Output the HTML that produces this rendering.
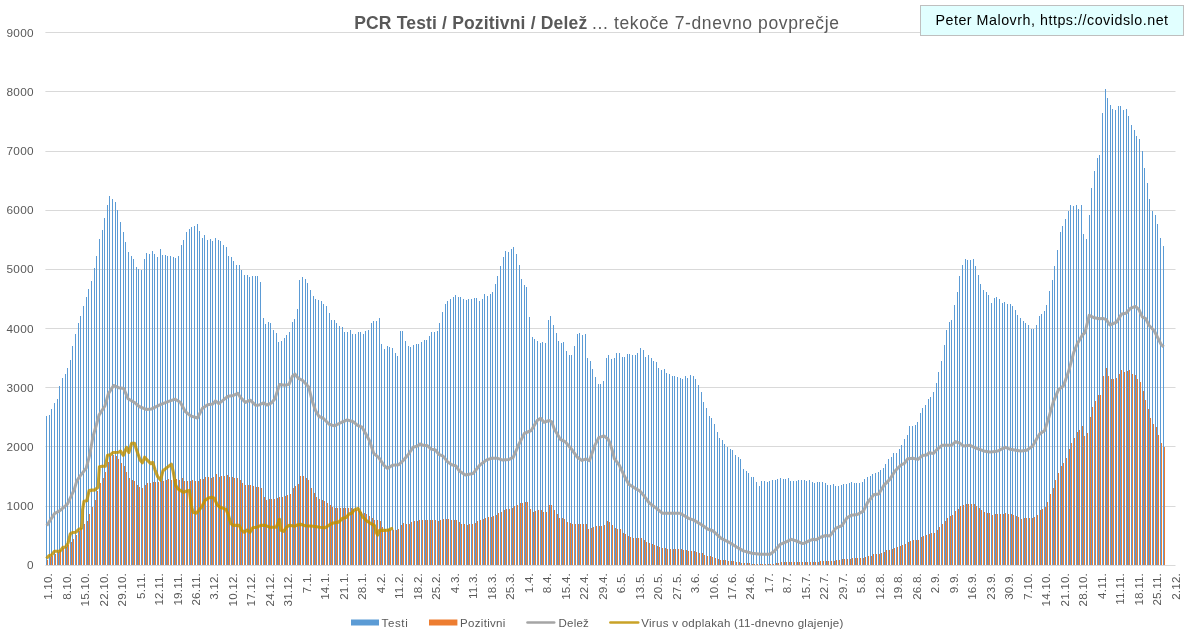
<!DOCTYPE html>
<html><head><meta charset="utf-8"><title>PCR Testi / Pozitivni / Delež</title>
<style>
html,body{margin:0;padding:0;background:#fff;}
body{width:1189px;height:643px;position:relative;overflow:hidden;font-family:"Liberation Sans",sans-serif;color:#595959;}
.t{will-change:transform;}
.yl{position:absolute;left:0;width:33.9px;text-align:right;font-size:11.8px;letter-spacing:0.3px;line-height:15px;height:15px;color:#595959;}
.xl{position:absolute;top:573.2px;font-size:11.6px;letter-spacing:0.2px;line-height:12px;white-space:nowrap;color:#595959;transform-origin:0 0;transform:rotate(-90deg) translate(-100%,-50%);}
.title{position:absolute;left:354.2px;top:12.3px;font-size:17.5px;line-height:22px;white-space:nowrap;color:#595959;letter-spacing:0.62px;}
.title b{font-weight:bold;letter-spacing:0.17px;}
.credit{position:absolute;left:920px;top:5px;width:262px;height:28.5px;border:1px solid #BFBFBF;background:#E1FFFF;box-sizing:content-box;}
.credit span{position:absolute;left:14.4px;top:5.0px;font-size:14.3px;letter-spacing:0.51px;line-height:18px;color:#000;white-space:nowrap;}
.lg{position:absolute;top:615.7px;font-size:11.5px;line-height:15px;white-space:nowrap;color:#595959;}
</style></head><body>
<svg width="1189" height="643" viewBox="0 0 1189 643" style="position:absolute;left:0;top:0">
<path fill="#D9D9D9" d="M45.4 506H1175.5v1H45.4zM45.4 446H1175.5v1H45.4zM45.4 387H1175.5v1H45.4zM45.4 328H1175.5v1H45.4zM45.4 269H1175.5v1H45.4zM45.4 210H1175.5v1H45.4zM45.4 151H1175.5v1H45.4zM45.4 91H1175.5v1H45.4zM45.4 32H1175.5v1H45.4z"/>
<g shape-rendering="crispEdges">
<path fill="#5B9BD5" d="M46 565V416h1V565zM49 565V415h1V565zM51 565V409h1V565zM54 565V403h1V565zM57 565V399h1V565zM59 565V386h1V565zM62 565V378h1V565zM65 565V374h1V565zM67 565V368h1V565zM70 565V360h1V565zM72 565V346h1V565zM75 565V334h1V565zM78 565V323h1V565zM80 565V316h1V565zM83 565V306h1V565zM86 565V297h1V565zM88 565V289h1V565zM91 565V281h1V565zM94 565V268h1V565zM96 565V256h1V565zM99 565V239h1V565zM102 565V230h1V565zM104 565V218h1V565zM107 565V205h1V565zM109 565V196h1V565zM112 565V199h1V565zM115 565V202h1V565zM117 565V210h1V565zM120 565V222h1V565zM123 565V232h1V565zM125 565V242h1V565zM128 565V252h1V565zM131 565V256h1V565zM133 565V259h1V565zM136 565V267h1V565zM138 565V269h1V565zM141 565V270h1V565zM144 565V259h1V565zM146 565V253h1V565zM149 565V254h1V565zM152 565V251h1V565zM154 565V254h1V565zM157 565V257h1V565zM160 565V249h1V565zM162 565V255h1V565zM165 565V255h1V565zM167 565V256h1V565zM170 565V256h1V565zM173 565V257h1V565zM175 565V258h1V565zM178 565V256h1V565zM181 565V245h1V565zM183 565V240h1V565zM186 565V232h1V565zM189 565V229h1V565zM191 565V227h1V565zM194 565V226h1V565zM197 565V224h1V565zM199 565V231h1V565zM202 565V238h1V565zM204 565V235h1V565zM207 565V240h1V565zM210 565V239h1V565zM212 565V241h1V565zM215 565V238h1V565zM218 565V240h1V565zM220 565V241h1V565zM223 565V245h1V565zM226 565V247h1V565zM228 565V256h1V565zM231 565V257h1V565zM233 565V261h1V565zM236 565V265h1V565zM239 565V265h1V565zM241 565V270h1V565zM244 565V275h1V565zM247 565V275h1V565zM249 565V277h1V565zM252 565V276h1V565zM255 565V276h1V565zM257 565V276h1V565zM260 565V282h1V565zM263 565V318h1V565zM265 565V324h1V565zM268 565V322h1V565zM270 565V323h1V565zM273 565V330h1V565zM276 565V333h1V565zM278 565V342h1V565zM281 565V341h1V565zM284 565V338h1V565zM286 565V335h1V565zM289 565V332h1V565zM292 565V322h1V565zM294 565V319h1V565zM297 565V309h1V565zM299 565V280h1V565zM302 565V277h1V565zM305 565V279h1V565zM307 565V283h1V565zM310 565V290h1V565zM313 565V296h1V565zM315 565V299h1V565zM318 565V300h1V565zM321 565V301h1V565zM323 565V304h1V565zM326 565V306h1V565zM329 565V313h1V565zM331 565V320h1V565zM334 565V320h1V565zM336 565V323h1V565zM339 565V326h1V565zM342 565V327h1V565zM344 565V332h1V565zM347 565V332h1V565zM350 565V330h1V565zM352 565V334h1V565zM355 565V334h1V565zM358 565V332h1V565zM360 565V332h1V565zM363 565V334h1V565zM365 565V331h1V565zM368 565V330h1V565zM371 565V323h1V565zM373 565V321h1V565zM376 565V321h1V565zM379 565V318h1V565zM381 565V344h1V565zM384 565V349h1V565zM387 565V346h1V565zM389 565V347h1V565zM392 565V348h1V565zM395 565V353h1V565zM397 565V356h1V565zM400 565V331h1V565zM402 565V331h1V565zM405 565V341h1V565zM408 565V346h1V565zM410 565V347h1V565zM413 565V345h1V565zM416 565V344h1V565zM418 565V344h1V565zM421 565V342h1V565zM424 565V340h1V565zM426 565V340h1V565zM429 565V336h1V565zM431 565V332h1V565zM434 565V332h1V565zM437 565V331h1V565zM439 565V323h1V565zM442 565V312h1V565zM445 565V304h1V565zM447 565V301h1V565zM450 565V299h1V565zM453 565V297h1V565zM455 565V295h1V565zM458 565V297h1V565zM460 565V297h1V565zM463 565V299h1V565zM466 565V300h1V565zM468 565V299h1V565zM471 565V299h1V565zM474 565V298h1V565zM476 565V298h1V565zM479 565V301h1V565zM482 565V299h1V565zM484 565V294h1V565zM487 565V296h1V565zM490 565V294h1V565zM492 565V292h1V565zM495 565V284h1V565zM497 565V276h1V565zM500 565V266h1V565zM503 565V257h1V565zM505 565V251h1V565zM508 565V252h1V565zM511 565V249h1V565zM513 565V247h1V565zM516 565V254h1V565zM519 565V265h1V565zM521 565V279h1V565zM524 565V285h1V565zM526 565V287h1V565zM529 565V317h1V565zM532 565V337h1V565zM534 565V339h1V565zM537 565V341h1V565zM540 565V343h1V565zM542 565V342h1V565zM545 565V343h1V565zM548 565V320h1V565zM550 565V316h1V565zM553 565V325h1V565zM556 565V333h1V565zM558 565V341h1V565zM561 565V343h1V565zM563 565V342h1V565zM566 565V351h1V565zM569 565V355h1V565zM571 565V355h1V565zM574 565V346h1V565zM577 565V334h1V565zM579 565V333h1V565zM582 565V335h1V565zM585 565V334h1V565zM587 565V358h1V565zM590 565V361h1V565zM592 565V369h1V565zM595 565V377h1V565zM598 565V384h1V565zM600 565V384h1V565zM603 565V381h1V565zM606 565V358h1V565zM608 565V355h1V565zM611 565V359h1V565zM614 565V358h1V565zM616 565V353h1V565zM619 565V353h1V565zM622 565V357h1V565zM624 565V357h1V565zM627 565V354h1V565zM629 565V354h1V565zM632 565V355h1V565zM635 565V355h1V565zM637 565V353h1V565zM640 565V348h1V565zM643 565V350h1V565zM645 565V357h1V565zM648 565V355h1V565zM651 565V358h1V565zM653 565V361h1V565zM656 565V362h1V565zM658 565V368h1V565zM661 565V370h1V565zM664 565V369h1V565zM666 565V373h1V565zM669 565V374h1V565zM672 565V376h1V565zM674 565V376h1V565zM677 565V377h1V565zM680 565V378h1V565zM682 565V379h1V565zM685 565V376h1V565zM687 565V378h1V565zM690 565V375h1V565zM693 565V376h1V565zM695 565V379h1V565zM698 565V385h1V565zM701 565V392h1V565zM703 565V402h1V565zM706 565V408h1V565zM709 565V416h1V565zM711 565V418h1V565zM714 565V424h1V565zM717 565V432h1V565zM719 565V438h1V565zM722 565V440h1V565zM724 565V444h1V565zM727 565V447h1V565zM730 565V449h1V565zM732 565V450h1V565zM735 565V455h1V565zM738 565V457h1V565zM740 565V459h1V565zM743 565V469h1V565zM746 565V471h1V565zM748 565V473h1V565zM751 565V477h1V565zM753 565V477h1V565zM756 565V482h1V565zM759 565V486h1V565zM761 565V481h1V565zM764 565V481h1V565zM767 565V482h1V565zM769 565V481h1V565zM772 565V480h1V565zM775 565V480h1V565zM777 565V479h1V565zM780 565V478h1V565zM783 565V479h1V565zM785 565V479h1V565zM788 565V478h1V565zM790 565V481h1V565zM793 565V481h1V565zM796 565V481h1V565zM798 565V480h1V565zM801 565V480h1V565zM804 565V480h1V565zM806 565V481h1V565zM809 565V480h1V565zM812 565V482h1V565zM814 565V483h1V565zM817 565V482h1V565zM819 565V482h1V565zM822 565V482h1V565zM825 565V483h1V565zM827 565V485h1V565zM830 565V485h1V565zM833 565V484h1V565zM835 565V486h1V565zM838 565V486h1V565zM841 565V485h1V565zM843 565V484h1V565zM846 565V484h1V565zM849 565V483h1V565zM851 565V482h1V565zM854 565V483h1V565zM856 565V483h1V565zM859 565V483h1V565zM862 565V482h1V565zM864 565V479h1V565zM867 565V477h1V565zM870 565V476h1V565zM872 565V474h1V565zM875 565V473h1V565zM878 565V472h1V565zM880 565V470h1V565zM883 565V468h1V565zM885 565V464h1V565zM888 565V459h1V565zM891 565V457h1V565zM893 565V453h1V565zM896 565V453h1V565zM899 565V449h1V565zM901 565V445h1V565zM904 565V439h1V565zM907 565V435h1V565zM909 565V426h1V565zM912 565V426h1V565zM915 565V425h1V565zM917 565V422h1V565zM920 565V413h1V565zM922 565V408h1V565zM925 565V405h1V565zM928 565V399h1V565zM930 565V397h1V565zM933 565V392h1V565zM936 565V383h1V565zM938 565V372h1V565zM941 565V361h1V565zM944 565V345h1V565zM946 565V330h1V565zM949 565V322h1V565zM951 565V320h1V565zM954 565V305h1V565zM957 565V292h1V565zM959 565V276h1V565zM962 565V265h1V565zM965 565V259h1V565zM967 565V260h1V565zM970 565V260h1V565zM973 565V259h1V565zM975 565V266h1V565zM978 565V275h1V565zM980 565V284h1V565zM983 565V290h1V565zM986 565V292h1V565zM988 565V295h1V565zM991 565V303h1V565zM994 565V298h1V565zM996 565V297h1V565zM999 565V299h1V565zM1002 565V303h1V565zM1004 565V302h1V565zM1007 565V304h1V565zM1010 565V304h1V565zM1012 565V306h1V565zM1015 565V310h1V565zM1017 565V315h1V565zM1020 565V318h1V565zM1023 565V321h1V565zM1025 565V323h1V565zM1028 565V325h1V565zM1031 565V329h1V565zM1033 565V329h1V565zM1036 565V325h1V565zM1039 565V316h1V565zM1041 565V314h1V565zM1044 565V311h1V565zM1046 565V305h1V565zM1049 565V291h1V565zM1052 565V280h1V565zM1054 565V266h1V565zM1057 565V250h1V565zM1060 565V232h1V565zM1062 565V226h1V565zM1065 565V219h1V565zM1068 565V211h1V565zM1070 565V205h1V565zM1073 565V206h1V565zM1076 565V205h1V565zM1078 565V209h1V565zM1081 565V205h1V565zM1083 565V234h1V565zM1086 565V239h1V565zM1089 565V215h1V565zM1091 565V188h1V565zM1094 565V171h1V565zM1097 565V158h1V565zM1099 565V155h1V565zM1102 565V113h1V565zM1105 565V89h1V565zM1107 565V98h1V565zM1110 565V105h1V565zM1112 565V109h1V565zM1115 565V110h1V565zM1118 565V106h1V565zM1120 565V106h1V565zM1123 565V110h1V565zM1126 565V109h1V565zM1128 565V116h1V565zM1131 565V125h1V565zM1134 565V130h1V565zM1136 565V136h1V565zM1139 565V139h1V565zM1142 565V151h1V565zM1144 565V168h1V565zM1147 565V183h1V565zM1149 565V199h1V565zM1152 565V211h1V565zM1155 565V215h1V565zM1157 565V224h1V565zM1160 565V238h1V565zM1163 565V246h1V565z"/>
<path fill="#ED7D31" d="M47 565V560h1V565zM50 565V557h1V565zM52 565V556h1V565zM55 565V554h1V565zM58 565V552h1V565zM60 565V550h1V565zM63 565V548h1V565zM66 565V547h1V565zM68 565V545h1V565zM71 565V542h1V565zM73 565V539h1V565zM76 565V535h1V565zM79 565V531h1V565zM81 565V528h1V565zM84 565V524h1V565zM87 565V521h1V565zM89 565V514h1V565zM92 565V507h1V565zM95 565V500h1V565zM97 565V491h1V565zM100 565V483h1V565zM103 565V478h1V565zM105 565V472h1V565zM108 565V462h1V565zM110 565V456h1V565zM113 565V455h1V565zM116 565V456h1V565zM118 565V459h1V565zM121 565V463h1V565zM124 565V466h1V565zM126 565V472h1V565zM129 565V478h1V565zM132 565V480h1V565zM134 565V481h1V565zM137 565V485h1V565zM139 565V487h1V565zM142 565V488h1V565zM145 565V485h1V565zM147 565V483h1V565zM150 565V483h1V565zM153 565V482h1V565zM155 565V482h1V565zM158 565V482h1V565zM161 565V481h1V565zM163 565V481h1V565zM166 565V480h1V565zM168 565V479h1V565zM171 565V480h1V565zM174 565V480h1V565zM176 565V479h1V565zM179 565V480h1V565zM182 565V478h1V565zM184 565V481h1V565zM187 565V481h1V565zM190 565V481h1V565zM192 565V480h1V565zM195 565V481h1V565zM198 565V481h1V565zM200 565V479h1V565zM203 565V479h1V565zM205 565V477h1V565zM208 565V477h1V565zM211 565V478h1V565zM213 565V477h1V565zM216 565V474h1V565zM219 565V477h1V565zM221 565V476h1V565zM224 565V476h1V565zM227 565V475h1V565zM229 565V477h1V565zM232 565V477h1V565zM234 565V478h1V565zM237 565V478h1V565zM240 565V480h1V565zM242 565V483h1V565zM245 565V485h1V565zM248 565V485h1V565zM250 565V485h1V565zM253 565V486h1V565zM256 565V487h1V565zM258 565V487h1V565zM261 565V488h1V565zM264 565V497h1V565zM266 565V500h1V565zM269 565V499h1V565zM271 565V499h1V565zM274 565V499h1V565zM277 565V498h1V565zM279 565V497h1V565zM282 565V497h1V565zM285 565V496h1V565zM287 565V495h1V565zM290 565V494h1V565zM293 565V488h1V565zM295 565V486h1V565zM298 565V484h1V565zM300 565V476h1V565zM303 565V476h1V565zM306 565V478h1V565zM308 565V480h1V565zM311 565V488h1V565zM314 565V493h1V565zM316 565V497h1V565zM319 565V499h1V565zM322 565V500h1V565zM324 565V501h1V565zM327 565V503h1V565zM330 565V505h1V565zM332 565V507h1V565zM335 565V508h1V565zM337 565V508h1V565zM340 565V508h1V565zM343 565V508h1V565zM345 565V508h1V565zM348 565V508h1V565zM351 565V508h1V565zM353 565V509h1V565zM356 565V510h1V565zM359 565V511h1V565zM361 565V512h1V565zM364 565V513h1V565zM366 565V514h1V565zM369 565V516h1V565zM372 565V518h1V565zM374 565V520h1V565zM377 565V520h1V565zM380 565V521h1V565zM382 565V527h1V565zM385 565V529h1V565zM388 565V529h1V565zM390 565V530h1V565zM393 565V530h1V565zM396 565V530h1V565zM398 565V529h1V565zM401 565V525h1V565zM403 565V523h1V565zM406 565V524h1V565zM409 565V524h1V565zM411 565V522h1V565zM414 565V521h1V565zM417 565V521h1V565zM419 565V520h1V565zM422 565V520h1V565zM425 565V520h1V565zM427 565V520h1V565zM430 565V520h1V565zM432 565V520h1V565zM435 565V520h1V565zM438 565V521h1V565zM440 565V520h1V565zM443 565V519h1V565zM446 565V519h1V565zM448 565V519h1V565zM451 565V520h1V565zM454 565V520h1V565zM456 565V520h1V565zM459 565V522h1V565zM461 565V524h1V565zM464 565V524h1V565zM467 565V525h1V565zM469 565V524h1V565zM472 565V524h1V565zM475 565V523h1V565zM477 565V521h1V565zM480 565V520h1V565zM483 565V519h1V565zM485 565V518h1V565zM488 565V517h1V565zM491 565V517h1V565zM493 565V516h1V565zM496 565V515h1V565zM498 565V513h1V565zM501 565V512h1V565zM504 565V510h1V565zM506 565V509h1V565zM509 565V509h1V565zM512 565V508h1V565zM514 565V506h1V565zM517 565V505h1V565zM520 565V503h1V565zM522 565V503h1V565zM525 565V502h1V565zM527 565V502h1V565zM530 565V509h1V565zM533 565V512h1V565zM535 565V511h1V565zM538 565V510h1V565zM541 565V510h1V565zM543 565V512h1V565zM546 565V512h1V565zM549 565V505h1V565zM551 565V505h1V565zM554 565V510h1V565zM557 565V514h1V565zM559 565V518h1V565zM562 565V518h1V565zM564 565V519h1V565zM567 565V522h1V565zM570 565V523h1V565zM572 565V524h1V565zM575 565V524h1V565zM578 565V524h1V565zM580 565V524h1V565zM583 565V524h1V565zM586 565V524h1V565zM588 565V529h1V565zM591 565V528h1V565zM593 565V527h1V565zM596 565V526h1V565zM599 565V526h1V565zM601 565V526h1V565zM604 565V525h1V565zM607 565V521h1V565zM609 565V522h1V565zM612 565V525h1V565zM615 565V528h1V565zM617 565V529h1V565zM620 565V529h1V565zM623 565V533h1V565zM625 565V534h1V565zM628 565V536h1V565zM630 565V537h1V565zM633 565V538h1V565zM636 565V538h1V565zM638 565V538h1V565zM641 565V538h1V565zM644 565V540h1V565zM646 565V542h1V565zM649 565V543h1V565zM652 565V544h1V565zM654 565V545h1V565zM657 565V546h1V565zM659 565V547h1V565zM662 565V548h1V565zM665 565V548h1V565zM667 565V549h1V565zM670 565V549h1V565zM673 565V549h1V565zM675 565V549h1V565zM678 565V549h1V565zM681 565V549h1V565zM683 565V550h1V565zM686 565V550h1V565zM688 565V551h1V565zM691 565V551h1V565zM694 565V551h1V565zM696 565V552h1V565zM699 565V553h1V565zM702 565V553h1V565zM704 565V555h1V565zM707 565V556h1V565zM710 565V556h1V565zM712 565V557h1V565zM715 565V558h1V565zM718 565V559h1V565zM720 565V560h1V565zM723 565V560h1V565zM725 565V560h1V565zM728 565V561h1V565zM731 565V561h1V565zM733 565V561h1V565zM736 565V562h1V565zM739 565V562h1V565zM741 565V563h1V565zM744 565V563h1V565zM747 565V563h1V565zM749 565V563h1V565zM752 565V564h1V565zM754 565V564h1V565zM757 565V564h1V565zM760 565V564h1V565zM762 565V564h1V565zM765 565V564h1V565zM768 565V564h1V565zM770 565V564h1V565zM773 565V564h1V565zM776 565V563h1V565zM778 565V563h1V565zM781 565V562h1V565zM784 565V562h1V565zM786 565V562h1V565zM789 565V562h1V565zM791 565V562h1V565zM794 565V562h1V565zM797 565V562h1V565zM799 565V562h1V565zM802 565V562h1V565zM805 565V562h1V565zM807 565V562h1V565zM810 565V562h1V565zM813 565V562h1V565zM815 565V562h1V565zM818 565V562h1V565zM820 565V561h1V565zM823 565V561h1V565zM826 565V561h1V565zM828 565V561h1V565zM831 565V561h1V565zM834 565V561h1V565zM836 565V560h1V565zM839 565V560h1V565zM842 565V559h1V565zM844 565V559h1V565zM847 565V559h1V565zM850 565V559h1V565zM852 565V558h1V565zM855 565V558h1V565zM857 565V558h1V565zM860 565V558h1V565zM863 565V558h1V565zM865 565V557h1V565zM868 565V556h1V565zM871 565V556h1V565zM873 565V554h1V565zM876 565V554h1V565zM879 565V554h1V565zM881 565V553h1V565zM884 565V552h1V565zM886 565V550h1V565zM889 565V550h1V565zM892 565V549h1V565zM894 565V548h1V565zM897 565V547h1V565zM900 565V546h1V565zM902 565V545h1V565zM905 565V544h1V565zM908 565V542h1V565zM910 565V541h1V565zM913 565V540h1V565zM916 565V540h1V565zM918 565V540h1V565zM921 565V537h1V565zM923 565V536h1V565zM926 565V535h1V565zM929 565V534h1V565zM931 565V533h1V565zM934 565V533h1V565zM937 565V530h1V565zM939 565V527h1V565zM942 565V524h1V565zM945 565V521h1V565zM947 565V518h1V565zM950 565V516h1V565zM952 565V515h1V565zM955 565V511h1V565zM958 565V509h1V565zM960 565V506h1V565zM963 565V505h1V565zM966 565V504h1V565zM968 565V504h1V565zM971 565V504h1V565zM974 565V504h1V565zM976 565V506h1V565zM979 565V508h1V565zM981 565V510h1V565zM984 565V512h1V565zM987 565V513h1V565zM989 565V513h1V565zM992 565V515h1V565zM995 565V514h1V565zM997 565V514h1V565zM1000 565V514h1V565zM1003 565V514h1V565zM1005 565V513h1V565zM1008 565V514h1V565zM1011 565V514h1V565zM1013 565V515h1V565zM1016 565V516h1V565zM1018 565V517h1V565zM1021 565V519h1V565zM1024 565V518h1V565zM1026 565V518h1V565zM1029 565V518h1V565zM1032 565V518h1V565zM1034 565V517h1V565zM1037 565V515h1V565zM1040 565V510h1V565zM1042 565V509h1V565zM1045 565V507h1V565zM1047 565V502h1V565zM1050 565V494h1V565zM1053 565V488h1V565zM1055 565V480h1V565zM1058 565V473h1V565zM1061 565V466h1V565zM1063 565V463h1V565zM1066 565V458h1V565zM1069 565V449h1V565zM1071 565V443h1V565zM1074 565V438h1V565zM1077 565V432h1V565zM1079 565V430h1V565zM1082 565V426h1V565zM1084 565V436h1V565zM1087 565V433h1V565zM1090 565V417h1V565zM1092 565V407h1V565zM1095 565V401h1V565zM1098 565V395h1V565zM1100 565V395h1V565zM1103 565V376h1V565zM1106 565V368h1V565zM1108 565V376h1V565zM1111 565V379h1V565zM1113 565V379h1V565zM1116 565V378h1V565zM1119 565V374h1V565zM1121 565V370h1V565zM1124 565V372h1V565zM1127 565V371h1V565zM1129 565V370h1V565zM1132 565V374h1V565zM1135 565V375h1V565zM1137 565V379h1V565zM1140 565V382h1V565zM1143 565V391h1V565zM1145 565V400h1V565zM1148 565V409h1V565zM1150 565V418h1V565zM1153 565V424h1V565zM1156 565V427h1V565zM1158 565V435h1V565zM1161 565V443h1V565zM1164 565V447h1V565z"/>
</g>
<path fill="#D9D9D9" d="M45.4 565H1175.5v1H45.4z"/>
<polyline fill="none" stroke="#A5A5A5" stroke-opacity="0.95" stroke-width="3.0" stroke-linejoin="round" stroke-linecap="butt" points="46.8,525.6 54.5,513.6 60.5,510.2 67.4,504.2 74.2,489.7 76.8,480.9 80.2,475.9 86.2,468.1 89.6,455.3 93.0,436.5 96.5,424.5 99.0,415.1 105.0,405.7 108.4,393.7 113.6,385.5 118.7,387.7 123.8,388.6 128.1,398.8 134.1,402.2 139.2,406.5 146.1,409.4 151.2,409.1 159.8,404.8 166.6,402.2 175.2,399.2 180.3,402.2 185.4,411.7 190.6,415.9 197.4,418.0 202.5,408.2 207.7,404.8 212.8,404.0 215.4,400.9 218.8,403.6 224.8,398.8 228.2,396.3 233.4,395.4 237.8,393.3 240.3,397.3 245.4,402.4 250.2,400.2 255.7,405.3 259.1,405.0 263.4,402.9 266.8,405.0 271.1,403.2 274.8,399.0 279.6,384.4 284.7,385.3 289.0,384.4 292.4,376.2 295.0,374.2 298.4,378.4 302.7,380.5 308.7,387.0 312.1,400.7 315.5,410.5 319.0,416.5 323.2,418.2 329.2,424.2 334.4,425.9 341.2,422.5 347.2,419.9 353.2,421.7 357.5,425.4 361.7,426.8 365.2,432.8 369.4,440.5 373.7,453.3 378.8,457.6 384.0,465.3 387.4,468.4 392.5,465.3 398.5,464.8 402.8,461.0 407.9,455.0 413.1,447.3 417.3,446.1 420.0,444.0 424.2,445.6 427.2,445.5 431.1,449.1 435.4,450.0 438.8,454.4 443.1,456.1 447.4,461.6 451.7,464.7 455.9,465.9 459.3,471.0 465.3,474.9 473.0,473.6 479.9,465.0 486.7,459.9 491.9,458.2 497.0,458.2 502.1,459.9 509.0,459.4 513.2,457.3 518.4,445.3 524.4,433.4 531.2,430.5 537.2,420.5 540.6,418.3 544.0,422.2 549.2,420.5 551.7,421.9 554.3,429.1 560.3,439.3 565.4,441.9 570.6,447.9 577.4,457.3 581.7,460.4 586.0,459.0 589.4,460.7 594.5,446.2 598.8,437.6 603.9,435.9 608.2,439.3 610.0,443.1 612.5,451.3 614.3,458.5 615.9,460.7 619.4,465.3 623.7,474.7 628.8,484.2 634.0,487.6 639.9,491.0 644.2,496.1 649.3,503.0 656.2,508.1 662.2,513.2 669.9,513.2 680.1,513.2 688.7,518.4 693.8,520.1 702.4,525.2 707.5,529.0 712.7,530.7 721.2,538.4 729.8,542.7 736.6,547.0 743.4,550.9 752.0,553.3 760.6,554.3 770.0,554.3 774.2,551.3 780.2,544.4 786.2,541.9 791.4,539.3 796.5,541.0 802.5,543.6 804.3,543.2 808.9,540.8 812.8,539.3 816.3,539.8 820.5,537.2 825.7,535.5 829.9,535.9 835.9,528.2 841.9,525.6 847.0,517.9 851.3,515.3 857.3,514.5 863.3,511.1 867.6,502.5 873.6,494.8 878.7,494.0 883.8,485.4 889.8,479.4 895.0,471.0 900.9,465.0 904.4,463.3 907.8,458.7 912.9,458.2 918.0,459.4 922.3,455.6 926.6,455.1 929.2,452.7 933.4,453.4 936.9,449.6 942.0,445.3 951.4,445.3 955.7,441.6 959.1,442.8 963.4,445.9 970.2,445.3 974.5,447.6 979.6,449.3 984.8,451.3 990.0,451.9 992.5,451.8 995.1,451.4 998.5,450.8 1000.3,449.7 1005.4,447.3 1010.5,449.3 1015.7,450.2 1020.8,451.1 1026.8,450.2 1032.8,445.9 1037.0,438.2 1039.6,434.0 1044.7,430.5 1049.0,416.8 1053.3,401.9 1058.4,389.9 1063.6,385.6 1068.7,371.1 1073.8,352.2 1077.3,343.7 1082.4,335.1 1085.0,332.4 1089.2,315.3 1094.4,317.8 1099.5,318.7 1102.9,318.4 1106.3,319.6 1109.8,325.0 1116.6,322.1 1121.7,313.9 1126.0,313.2 1130.3,308.4 1135.4,306.4 1138.8,309.3 1142.3,317.0 1145.7,318.7 1149.1,325.5 1154.2,330.7 1158.5,339.2 1161.1,344.4 1163.7,346.9"/>
<polyline fill="none" stroke="#BF9000" stroke-opacity="0.82" stroke-width="3.1" stroke-linejoin="round" stroke-linecap="butt" points="46.5,558.6 48.9,555.8 51.7,554.9 54.5,551.2 56.8,551.2 60.1,551.2 62.9,547.4 65.7,547.0 68.0,543.2 70.3,533.9 72.6,532.5 75.9,532.2 78.7,529.4 81.5,528.3 82.4,519.0 82.6,509.7 84.0,501.3 86.8,500.8 89.1,490.6 91.9,490.1 94.7,490.1 98.0,487.3 99.4,466.8 102.2,466.3 105.4,466.3 107.5,455.3 110.3,454.9 113.1,452.5 118.7,452.2 120.5,451.1 123.3,455.3 126.6,447.4 128.9,452.5 131.7,443.2 134.5,443.2 137.3,452.1 140.1,460.0 142.4,462.8 144.6,457.2 148.0,460.9 150.8,463.7 152.7,462.3 155.0,469.8 157.8,476.8 160.6,480.0 163.0,470.7 167.2,467.4 171.4,464.2 173.2,471.6 175.7,485.3 178.1,489.0 180.9,490.9 183.7,492.3 186.9,490.9 189.4,490.4 191.1,504.9 193.0,512.3 196.2,513.2 199.0,510.4 202.3,505.8 205.1,500.2 208.4,497.9 211.6,497.2 214.4,498.3 217.2,504.9 220.0,507.2 222.8,508.1 226.1,509.5 228.4,515.1 230.8,523.5 233.1,525.4 239.2,525.4 241.5,530.0 244.3,532.4 247.1,530.0 249.9,532.4 252.7,527.7 256.9,527.2 261.1,525.4 265.3,525.4 269.5,527.2 276.2,527.2 278.1,523.0 279.5,519.3 280.9,530.4 283.7,531.4 286.5,527.2 289.3,525.3 294.9,526.2 297.6,524.9 301.4,524.4 305.1,525.8 313.5,526.2 320.0,527.2 325.6,527.6 329.4,524.9 333.1,523.0 338.7,522.1 342.4,518.3 346.2,517.4 349.0,514.1 351.8,513.2 354.3,509.9 358.1,508.5 359.9,511.8 362.7,516.9 366.5,520.7 370.7,523.5 374.4,525.3 376.2,532.3 377.6,535.1 379.5,530.4 383.2,530.4 387.9,530.3 390.7,529.0 393.0,528.1"/>
<rect x="351" y="619.5" width="28" height="6" fill="#5B9BD5"/>
<rect x="429" y="619.5" width="28.4" height="6" fill="#ED7D31"/>
<line x1="527.5" x2="554.2" y1="622.5" y2="622.5" stroke="#A5A5A5" stroke-width="2.6" stroke-linecap="round"/>
<line x1="610.4" x2="638.2" y1="622.5" y2="622.5" stroke="#C9A227" stroke-width="2.6" stroke-linecap="round"/>
</svg>
<div class="t">
<div class="yl" style="top:557.9px">0</div><div class="yl" style="top:498.8px">1000</div><div class="yl" style="top:439.7px">2000</div><div class="yl" style="top:380.6px">3000</div><div class="yl" style="top:321.5px">4000</div><div class="yl" style="top:262.4px">5000</div><div class="yl" style="top:203.2px">6000</div><div class="yl" style="top:144.1px">7000</div><div class="yl" style="top:85.0px">8000</div><div class="yl" style="top:25.9px">9000</div>
<div class="xl" style="left:48.12px">1.10.</div><div class="xl" style="left:66.60px">8.10.</div><div class="xl" style="left:85.09px">15.10.</div><div class="xl" style="left:103.57px">22.10.</div><div class="xl" style="left:122.05px">29.10.</div><div class="xl" style="left:140.53px">5.11.</div><div class="xl" style="left:159.02px">12.11.</div><div class="xl" style="left:177.50px">19.11.</div><div class="xl" style="left:195.98px">26.11.</div><div class="xl" style="left:214.47px">3.12.</div><div class="xl" style="left:232.95px">10.12.</div><div class="xl" style="left:251.43px">17.12.</div><div class="xl" style="left:269.92px">24.12.</div><div class="xl" style="left:288.40px">31.12.</div><div class="xl" style="left:306.88px">7.1.</div><div class="xl" style="left:325.36px">14.1.</div><div class="xl" style="left:343.85px">21.1.</div><div class="xl" style="left:362.33px">28.1.</div><div class="xl" style="left:380.81px">4.2.</div><div class="xl" style="left:399.30px">11.2.</div><div class="xl" style="left:417.78px">18.2.</div><div class="xl" style="left:436.26px">25.2.</div><div class="xl" style="left:454.74px">4.3.</div><div class="xl" style="left:473.23px">11.3.</div><div class="xl" style="left:491.71px">18.3.</div><div class="xl" style="left:510.19px">25.3.</div><div class="xl" style="left:528.68px">1.4.</div><div class="xl" style="left:547.16px">8.4.</div><div class="xl" style="left:565.64px">15.4.</div><div class="xl" style="left:584.13px">22.4.</div><div class="xl" style="left:602.61px">29.4.</div><div class="xl" style="left:621.09px">6.5.</div><div class="xl" style="left:639.57px">13.5.</div><div class="xl" style="left:658.06px">20.5.</div><div class="xl" style="left:676.54px">27.5.</div><div class="xl" style="left:695.02px">3.6.</div><div class="xl" style="left:713.51px">10.6.</div><div class="xl" style="left:731.99px">17.6.</div><div class="xl" style="left:750.47px">24.6.</div><div class="xl" style="left:768.96px">1.7.</div><div class="xl" style="left:787.44px">8.7.</div><div class="xl" style="left:805.92px">15.7.</div><div class="xl" style="left:824.40px">22.7.</div><div class="xl" style="left:842.89px">29.7.</div><div class="xl" style="left:861.37px">5.8.</div><div class="xl" style="left:879.85px">12.8.</div><div class="xl" style="left:898.34px">19.8.</div><div class="xl" style="left:916.82px">26.8.</div><div class="xl" style="left:935.30px">2.9.</div><div class="xl" style="left:953.78px">9.9.</div><div class="xl" style="left:972.27px">16.9.</div><div class="xl" style="left:990.75px">23.9.</div><div class="xl" style="left:1009.23px">30.9.</div><div class="xl" style="left:1027.72px">7.10.</div><div class="xl" style="left:1046.20px">14.10.</div><div class="xl" style="left:1064.68px">21.10.</div><div class="xl" style="left:1083.17px">28.10.</div><div class="xl" style="left:1101.65px">4.11.</div><div class="xl" style="left:1120.13px">11.11.</div><div class="xl" style="left:1138.61px">18.11.</div><div class="xl" style="left:1157.10px">25.11.</div><div class="xl" style="left:1175.58px">2.12.</div>
<div class="title"><b>PCR Testi / Pozitivni / Delež</b><span style="margin-left:-0.8px"> ... tekoče 7-dnevno povprečje</span></div>
<div class="credit"><span>Peter Malovrh, https://covidslo.net</span></div>
<div class="lg" style="left:381.6px;letter-spacing:0.62px">Testi</div>
<div class="lg" style="left:460px;letter-spacing:0.32px">Pozitivni</div>
<div class="lg" style="left:558.6px;letter-spacing:0.2px">Delež</div>
<div class="lg" style="left:641.3px;letter-spacing:0.28px">Virus v odplakah (11-dnevno glajenje)</div>
</div>
</body></html>
